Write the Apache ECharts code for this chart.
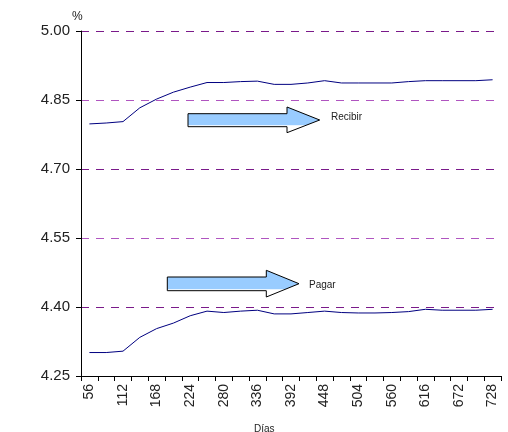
<!DOCTYPE html>
<html>
<head>
<meta charset="utf-8">
<script src="https://cdn.jsdelivr.net/npm/echarts@6/dist/echarts.min.js"></script>
<style>html,body{margin:0;padding:0;background:#fff;}#c{width:508px;height:432px;}</style>
</head>
<body>
<div id="c"></div>
<script>
// Categories (días)
var dias = [56,84,112,140,168,196,224,252,280,308,336,364,392,420,448,476,504,532,560,588,616,644,672,700,728];
// Series values (%)
var recibir = [4.798,4.800,4.803,4.833,4.852,4.867,4.878,4.888,4.888,4.890,4.891,4.884,4.884,4.887,4.892,4.887,4.887,4.887,4.887,4.890,4.892,4.892,4.892,4.892,4.894];
var pagar = [4.301,4.301,4.304,4.334,4.353,4.365,4.381,4.391,4.388,4.391,4.393,4.385,4.385,4.388,4.391,4.388,4.387,4.387,4.388,4.390,4.395,4.393,4.393,4.393,4.395];
// Y axis tick settings
var Y_MIN = 4.25, Y_MAX = 5.00, Y_STEP = 0.15;

function shift(arr){ return arr.map(function(v){ return +(v - Y_MIN).toFixed(4); }); }

var chart = echarts.init(document.getElementById('c'));
var FONT = '"Liberation Sans", Arial, sans-serif';
var arrowFill = {type:'linear', x:0, y:0, x2:0, y2:1, colorStops:[
  {offset:0, color:'#99ccff'},{offset:0.68, color:'#99ccff'},{offset:0.72, color:'#ffffff'},{offset:1, color:'#ffffff'}]};

chart.setOption({
  animation:false,
  backgroundColor:'#ffffff',
  grid:{left:81, right:7, top:31, bottom:56, containLabel:false},
  xAxis:{
    type:'category', data:dias, boundaryGap:true,
    axisLine:{lineStyle:{color:'#000', width:1}},
    axisTick:{show:true, interval:0, length:5, inside:false, lineStyle:{color:'#000'}},
    axisLabel:{interval:1, rotate:90, margin:8, fontSize:14, color:'#222', fontFamily:FONT},
    splitLine:{show:false}
  },
  yAxis:{
    type:'value', min:0, max:+(Y_MAX-Y_MIN).toFixed(2), interval:Y_STEP,
    axisLine:{show:true, lineStyle:{color:'#000', width:1}},
    axisTick:{show:true, length:5, lineStyle:{color:'#000'}},
    axisLabel:{margin:11, fontSize:15, color:'#222', fontFamily:FONT,
      formatter:function(v){ return (v + Y_MIN).toFixed(2); }},
    splitLine:{show:true, lineStyle:{color:['#000','#7a1a8a','#b055c0','#7a1a8a','#b055c0','#7a1a8a'], type:[8,7], width:1}}
  },
  series:[
    {type:'line', data:shift(recibir), symbol:'none', lineStyle:{color:'#000080', width:1}},
    {type:'line', data:shift(pagar), symbol:'none', lineStyle:{color:'#000080', width:1}}
  ],
  graphic:[
    {type:'text', left:72, top:11, style:{text:'%', fontSize:12, fill:'#222', fontFamily:FONT}},
    {type:'text', left:254, top:424, style:{text:'Días', fontSize:10, fill:'#222', fontFamily:FONT}},
    {type:'polygon', shape:{points:[[188,113.7],[287,113.7],[287,107],[319.7,120],[287,132.7],[287,126.7],[188,126.7]]},
      style:{fill:arrowFill, stroke:'#000', lineWidth:1}},
    {type:'text', left:331, top:112, style:{text:'Recibir', fontSize:10, fill:'#222', fontFamily:FONT}},
    {type:'polygon', shape:{points:[[167.3,277],[266.3,277],[266.3,270.3],[299,283.7],[266.3,297],[266.3,290.7],[167.3,290.7]]},
      style:{fill:arrowFill, stroke:'#000', lineWidth:1}},
    {type:'text', left:309, top:280, style:{text:'Pagar', fontSize:10, fill:'#222', fontFamily:FONT}}
  ]
});
</script>
</body>
</html>
